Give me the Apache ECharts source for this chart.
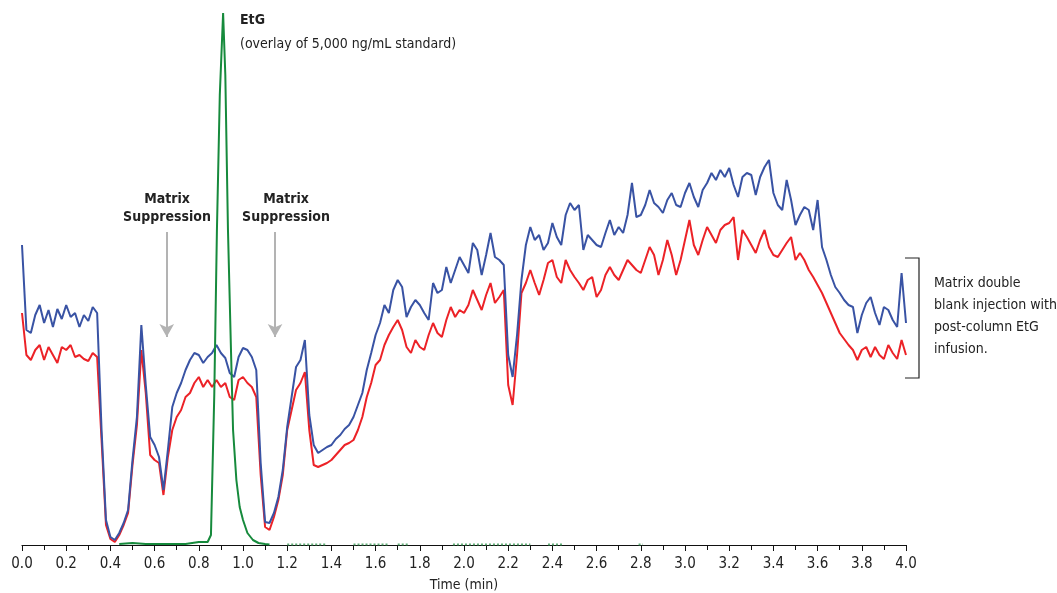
<!DOCTYPE html>
<html>
<head>
    <meta charset="utf-8">
    <script src="https://cdn.jsdelivr.net/npm/echarts@6/dist/echarts.min.js"></script>
    <style>
        body { margin: 0; background: #fff; }
    </style>
</head>
<body>
    <div id="chart" style="width: 1057px;height:593px;"></div>
    <script type="text/javascript">
        // time axis: 0.00 .. 4.00 min, step 0.02
        var times = [];
        for (var i = 0; i <= 200; i++) times.push(+(i * 0.02).toFixed(2));

        // matrix double blank, post-column EtG infusion (upper trace)
        var blueTrace = [
            300, 215, 212, 230, 240, 222, 235, 218, 236, 226,
            240, 228, 232, 218, 230, 224, 238, 232, 115, 25,
            8, 5, 12, 22, 35, 85, 128, 220, 160, 108,
            100, 88, 55, 95, 138, 152, 162, 175, 185, 192,
            190, 182, 188, 192, 200, 192, 187, 172, 168, 188,
            197, 195, 188, 175, 82, 23, 22, 32, 48, 75,
            118, 148, 178, 185, 205, 130, 100, 92, 95, 98,
            100, 106, 110, 116, 120, 128, 140, 152, 175, 192,
            210, 222, 240, 232, 255, 265, 258, 228, 238, 245,
            240, 232, 225, 262, 252, 255, 278, 262, 275, 288,
            280, 272, 302, 295, 270, 290, 312, 288, 285, 280,
            190, 168, 210, 265, 300, 318, 305, 310, 295, 302,
            322, 308, 300, 330, 342, 335, 340, 295, 310, 305,
            300, 298, 312, 325, 310, 318, 312, 330, 362, 328,
            330, 340, 355, 342, 338, 332, 345, 352, 340, 338,
            352, 362, 348, 338, 355, 362, 372, 365, 375, 368,
            377, 360, 348, 368, 372, 370, 350, 368, 378, 385,
            352, 340, 335, 365, 345, 320, 330, 338, 335, 315,
            345, 298, 285, 270, 258, 252, 245, 240, 238, 212,
            230, 242, 248, 232, 220, 238, 235, 225, 218, 272,
            222
        ];

        // lower trace
        var redTrace = [
            232, 190, 185, 195, 200, 185, 198, 190, 182, 198,
            195, 200, 188, 190, 186, 184, 192, 188, 105, 20,
            6, 3, 10, 20, 32, 80, 120, 195, 152, 90,
            85, 82, 50, 88, 115, 128, 135, 148, 152, 162,
            168, 158, 165, 158, 165, 158, 162, 148, 145, 165,
            168, 162, 158, 148, 70, 18, 15, 28, 45, 70,
            115, 135, 155, 162, 173, 115, 80, 78, 80, 82,
            85, 90, 95, 100, 102, 105, 115, 128, 148, 162,
            180, 185, 200, 210, 218, 225, 215, 198, 192, 205,
            198, 195, 210, 222, 212, 208, 225, 238, 228, 235,
            232, 240, 255, 245, 235, 250, 262, 242, 248, 255,
            160, 140, 190, 252, 262, 275, 262, 250, 265, 282,
            285, 268, 262, 285, 275, 268, 262, 255, 265, 268,
            248, 255, 270, 278, 270, 265, 275, 285, 280, 275,
            272, 285, 298, 290, 270, 285, 305, 290, 270, 285,
            305, 325, 300, 290, 305, 318, 310, 302, 315, 320,
            322, 328, 285, 315, 308, 300, 292, 305, 315, 298,
            290, 288, 295, 302, 308, 285, 292, 285, 275, 268,
            260, 252, 242, 232, 222, 212, 206, 200, 195, 185,
            195, 198, 188, 198, 190, 186, 200, 192, 186, 205,
            190
        ];

        // EtG standard overlay
        var greenTimes = [
            0.44, 0.50, 0.56, 0.62, 0.68, 0.74, 0.80, 0.84, 0.855, 0.87,
            0.882, 0.895, 0.91, 0.92, 0.932, 0.945, 0.955, 0.97, 0.985, 1.00,
            1.02, 1.045, 1.07, 1.10, 1.12
        ];
        var greenTrace = [
            1, 2, 1, 1, 1, 1, 3, 3, 10, 150,
            315, 450, 532, 470, 315, 200, 115, 65, 38, 25,
            12, 5, 2, 1, 0.5
        ];
        // faint EtG baseline fragments along the axis (null = gap)
        var greenBaseTimes = [1.20, 1.38, 1.39, 1.50, 1.66, 1.67, 1.70, 1.75, 1.76, 1.95, 2.30, 2.31, 2.38, 2.45, 2.46, 2.79, 2.81];
        var greenBase = [0.5, 0.5, null, 0.5, 0.5, null, 0.5, 0.5, null, 0.5, 0.5, null, 0.5, 0.5, null, 0.5, 0.5];

        var xTicks = { min: 0, max: 4, step: 0.2 };

        var font = "'Liberation Sans Narrow', 'DejaVu Sans Condensed', 'Noto Sans', sans-serif";

        function zip(xs, ys) {
            var out = [];
            for (var i = 0; i < xs.length; i++) out.push([xs[i], ys[i]]);
            return out;
        }

        var myChart = echarts.init(document.getElementById('chart'));
        var option = {
            animation: false,
            backgroundColor: '#fff',
            grid: { left: 22, right: 151, top: 13, bottom: 48, containLabel: false, outerBoundsMode: 'none' },
            xAxis: {
                type: 'value',
                min: xTicks.min, max: xTicks.max, interval: xTicks.step,
                name: 'Time (min)', nameLocation: 'middle', nameGap: 33,
                nameTextStyle: { fontFamily: font, fontSize: 14, color: '#222' },
                axisLine: { lineStyle: { color: '#111', width: 1.2 } },
                axisTick: { length: 6, lineStyle: { color: '#111' } },
                minorTick: { show: true, splitNumber: 2, length: 5, lineStyle: { color: '#111' } },
                axisLabel: {
                    fontFamily: font, fontSize: 15, color: '#222', margin: 12,
                    formatter: function (v) { return v.toFixed(1); }
                },
                splitLine: { show: false }
            },
            yAxis: { type: 'value', min: 0, max: 532, show: false },
            series: [
                {
                    name: 'blank', type: 'line', data: zip(times, blueTrace),
                    showSymbol: false, lineStyle: { color: '#3953a4', width: 2 }, z: 3,
                    markLine: {
                        silent: true, symbol: ['none', 'arrow'], symbolSize: [11, 13],
                        label: { show: false },
                        lineStyle: { color: '#b3b3b3', width: 2, type: 'solid' },
                        data: [
                            [{ coord: [0.655, 313] }, { coord: [0.655, 208] }],
                            [{ coord: [1.145, 313] }, { coord: [1.145, 208] }]
                        ]
                    }
                },
                {
                    name: 'blank2', type: 'line', data: zip(times, redTrace),
                    showSymbol: false, lineStyle: { color: '#ec2227', width: 2 }, z: 2
                },
                {
                    name: 'EtG', type: 'line', data: zip(greenTimes, greenTrace),
                    showSymbol: false,
                    lineStyle: { color: '#168a3c', width: 2 }, z: 4
                },
                {
                    name: 'EtG base', type: 'line', data: zip(greenBaseTimes, greenBase),
                    showSymbol: false, connectNulls: false,
                    lineStyle: { color: '#3a9a55', width: 2, type: [2, 2], opacity: 0.8 }, z: 1
                }
            ],
            graphic: [
                { type: 'text', left: 240, top: 13, style: { text: 'EtG', font: 'bold 14px ' + font, fill: '#222' } },
                { type: 'text', left: 240, top: 37, style: { text: '(overlay of 5,000 ng/mL standard)', font: '14px ' + font, fill: '#222' } },
                { type: 'text', x: 167, y: 190, style: { text: 'Matrix\nSuppression', font: 'bold 14px ' + font, fill: '#222', align: 'center', lineHeight: 18 } },
                { type: 'text', x: 286, y: 190, style: { text: 'Matrix\nSuppression', font: 'bold 14px ' + font, fill: '#222', align: 'center', lineHeight: 18 } },
                { type: 'polyline', shape: { points: [[905, 258], [919, 258], [919, 378], [905, 378]] }, style: { stroke: '#222', lineWidth: 1.2, fill: null } },
                { type: 'text', left: 934, top: 272, style: { text: 'Matrix double\nblank injection with\npost-column EtG\ninfusion.', font: '14px ' + font, fill: '#222', lineHeight: 22 } }
            ]
        };
        myChart.setOption(option);
    </script>
</body>
</html>
